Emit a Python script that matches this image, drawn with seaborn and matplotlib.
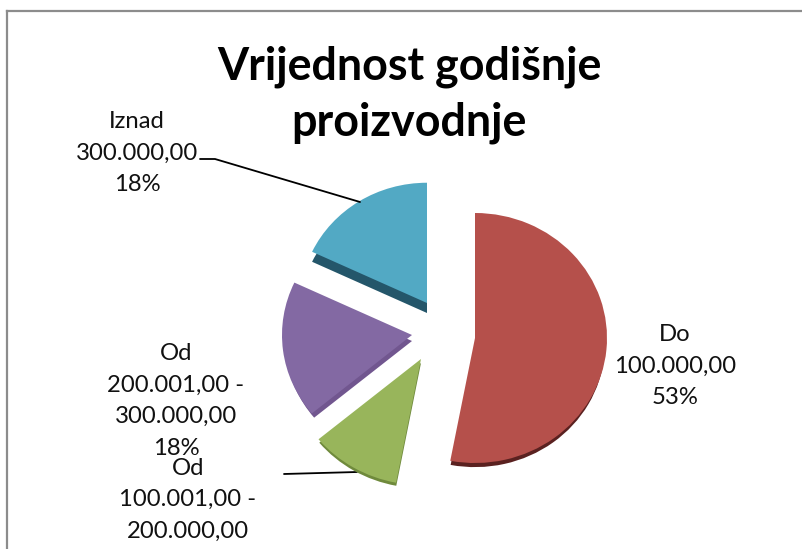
import matplotlib
matplotlib.use('Agg')
import matplotlib.pyplot as plt
import seaborn as sns

# datos del grafico
categorias = ['Do\n100.000,00', 'Od\n100.001,00 -\n200.000,00', 'Od\n200.001,00 -\n300.000,00', 'Iznad\n300.000,00']
porcentajes = [53, 11, 18, 18]
titulo = 'Vrijednost godišnje\nproizvodnje'
colores = ['#B5504B', '#98B55B', '#8369A3', '#52A9C4']
colores_lado = ['#5A2120', '#6F8A3C', '#71568F', '#24566A']

sns.set_theme(style='white')
plt.rcParams['font.family'] = ['Lato', 'DejaVu Sans']

ESC = 132 / 125  # el pastel esta algo aplastado en vertical


def py(y):
    return (549 - y) * ESC


fig = plt.figure(figsize=(8.02, 5.49), dpi=100)
ax = fig.add_axes([7 / 802, 0, 1 - 7 / 802, 538 / 549])

# centro, radio y grosor de cada porcion en pixeles
centros = [(475, 338), (421, 359), (412, 335), (427, 303)]
radios = [132, 133, 130, 127]
radios_lado = [130, 132, 127, 127]
grosor = [6, 4, 6, 10]

borde = {'linewidth': 0}
lado, _ = ax.pie(porcentajes, startangle=90, counterclock=False, colors=sns.color_palette(colores_lado), radius=130, frame=True, wedgeprops=borde)
cara, _ = ax.pie(porcentajes, startangle=90, counterclock=False, colors=sns.color_palette(colores), radius=130, frame=True, wedgeprops=borde)
for i in range(4):
    lado[i].set_center((centros[i][0], py(centros[i][1] + grosor[i])))
    lado[i].set_radius(radios_lado[i])
    lado[i].set_zorder(2)
    cara[i].set_center((centros[i][0], py(centros[i][1])))
    cara[i].set_radius(radios[i])
    cara[i].set_zorder(3)

ax.set_aspect('auto')
ax.set_xlim(7, 802)
ax.set_ylim(0, py(11))
ax.set_xticks([])
ax.set_yticks([])
for s in ['right', 'bottom']:
    ax.spines[s].set_visible(False)
for s in ['left', 'top']:
    ax.spines[s].set_visible(True)
    ax.spines[s].set_color('#8C8C8C')
    ax.spines[s].set_linewidth(1.6)

# lineas guia
ax.plot([200, 215, 360], [py(159), py(159), py(202)], color='black', lw=1.3, zorder=4)
ax.plot([284, 357], [py(474), py(472)], color='black', lw=1.3, zorder=1)

ax.text(409, py(95), titulo, ha='center', va='center', fontsize=32.3, fontweight='bold', color='black', linespacing=1.4)

etiquetas = [f'{c}\n{p}%' for c, p in zip(categorias, porcentajes)]
pos = [(675, 366, 'center'), (188, 458, 'top'), (176, 401, 'center'), (137, 153, 'center')]
esp = [1.62, 1.6, 1.62, 1.62]
for t, (x, y, va), e in zip(etiquetas, pos, esp):
    ax.text(x, py(y), t, ha='center', va=va, fontsize=17.2, color='#111111', linespacing=e, zorder=5)

fig.savefig('out.png', dpi=100)
